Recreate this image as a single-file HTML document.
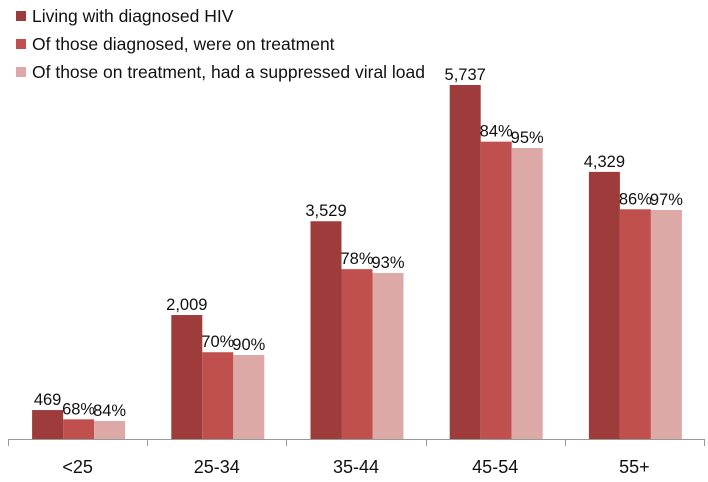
<!DOCTYPE html>
<html><head><meta charset="utf-8"><style>
html,body{margin:0;padding:0;background:#fff;}
svg{display:block;font-family:"Liberation Sans",Arial,sans-serif;}
</style></head><body>
<svg id="chart" width="708" height="482">
<g id="legend">
 <g><rect x="16" y="11" width="10" height="10" fill="#9e3c3c"/><text x="32" y="22" font-size="17.5" fill="#111">Living with diagnosed HIV</text></g>
 <g><rect x="16" y="39" width="10" height="10" fill="#c0504d"/><text x="32" y="50" font-size="17.5" fill="#111">Of those diagnosed, were on treatment</text></g>
 <g><rect x="16" y="67" width="10" height="10" fill="#dca9a7"/><text x="32" y="78" font-size="17.5" fill="#111">Of those on treatment, had a suppressed viral load</text></g>
</g>
<g id="bars"></g>
<g id="labels"></g>
<g id="axis"></g>
</svg>
<script>
const categories = ["<25","25-34","35-44","45-54","55+"];
const diagnosed = [469, 2009, 3529, 5737, 4329];
const treatmentPct = [68, 70, 78, 84, 86];
const suppressedPct = [84, 90, 93, 95, 97];
const suppressedBarValue = [292, 1361, 2690, 4716, 3711];

const NS = "http://www.w3.org/2000/svg";
const x0 = 8, groupW = 139.2, baseY = 439, maxH = 354, maxV = 5737;
const barW = 31;
function y(v){ return baseY - v / maxV * maxH; }
function gx(i){ return x0 + groupW * (i + 0.5); }
function mk(tag, attrs, parent){ const e = document.createElementNS(NS, tag); for (const k in attrs) e.setAttribute(k, attrs[k]); parent.appendChild(e); return e; }
const bars = document.getElementById("bars"), labels = document.getElementById("labels"), axis = document.getElementById("axis");
const colors = ["#9e3c3c", "#c0504d", "#dca9a7"];
categories.forEach((c, i) => {
  const vals = [diagnosed[i], diagnosed[i] * treatmentPct[i] / 100, suppressedBarValue[i]];
  const texts = [diagnosed[i].toLocaleString("en-US"), treatmentPct[i] + "%", suppressedPct[i] + "%"];
  const names = ["diagnosed", "treatment", "suppressed"];
  vals.forEach((v, j) => {
    const bx = gx(i) - 1.5 * barW + j * barW + 1;
    const r = mk("rect", {x: bx, y: y(v), width: barW, height: baseY - y(v), fill: colors[j]}, bars);
    
    
    const t = mk("text", {x: bx + barW / 2, y: y(v) - 5, "font-size": 16.5, "text-anchor": "middle", fill: "#111"}, labels);
    t.textContent = texts[j];
    
    
  });
  const tl = mk("text", {x: gx(i), y: 473, "font-size": 18, "text-anchor": "middle", fill: "#111"}, axis);
  tl.textContent = c;
  
  
});
const line = mk("line", {x1: x0, x2: x0 + groupW * 5, y1: baseY + 0.5, y2: baseY + 0.5, stroke: "#999", "stroke-width": 1}, axis);


for (let k = 0; k <= categories.length; k++) {
  const tx = Math.round(x0 + groupW * k) + 0.5;
  const tk = mk("line", {x1: tx, x2: tx, y1: baseY, y2: baseY + 7, stroke: "#999", "stroke-width": 1}, axis);
  
  
}
</script>
</body></html>
